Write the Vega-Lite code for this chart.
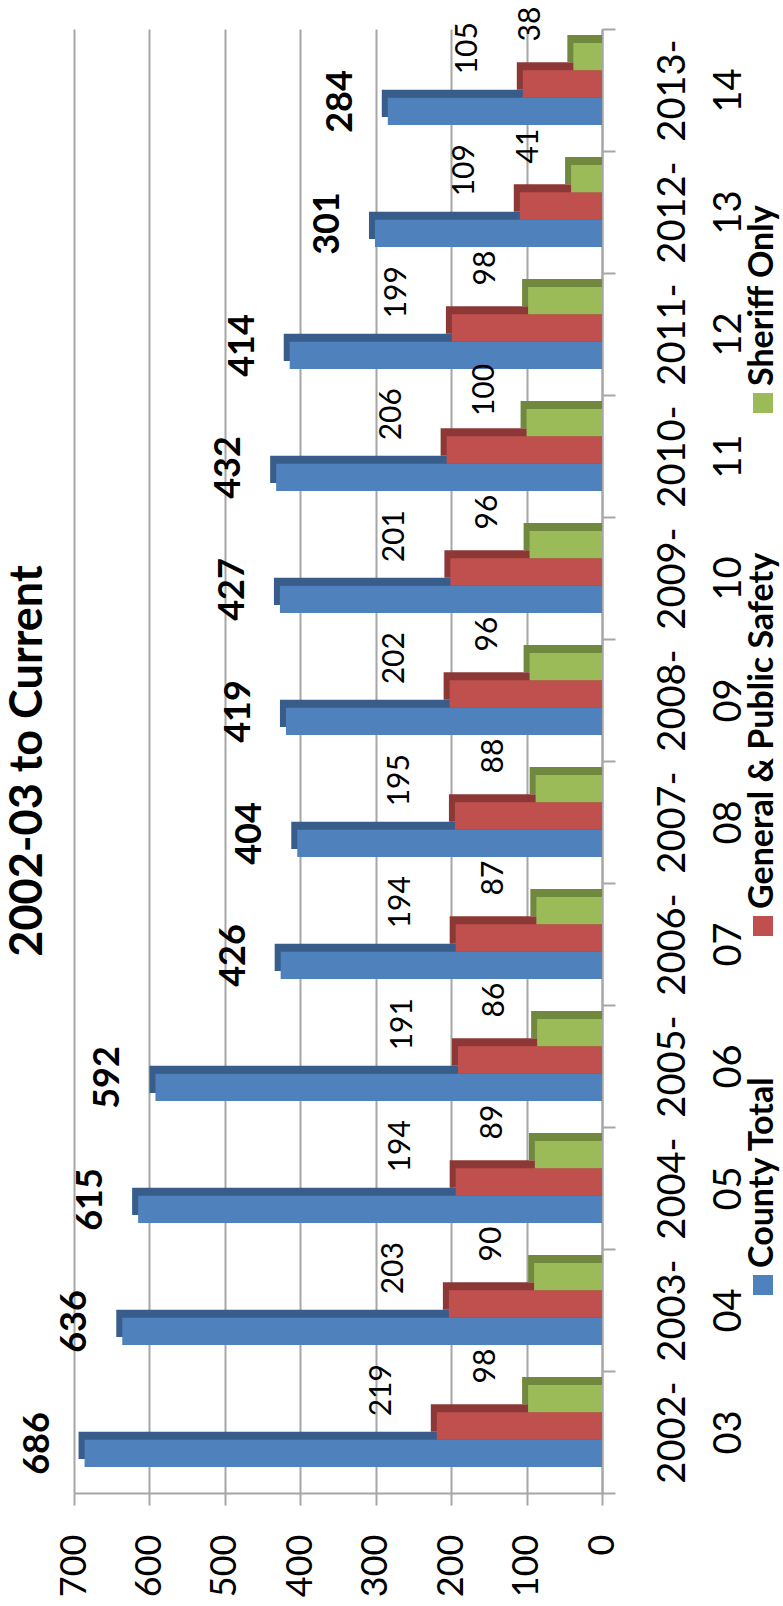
{
  "$schema": "https://vega.github.io/schema/vega-lite/v6.json",
  "width": 528,
  "height": 1464,
  "autosize": {"type": "none"},
  "padding": {"left": 74, "top": 29, "right": 181, "bottom": 113},
  "background": "white",
  "title": {"text": "2002-03 to Current", "orient": "left", "anchor": "middle", "font": "Lato", "fontSize": 45, "fontWeight": "bold", "color": "black", "offset": -31},
  "data": {"values": [
    {"year": "2002-03", "series": "County Total", "value": 686},
    {"year": "2002-03", "series": "General & Public Safety", "value": 219},
    {"year": "2002-03", "series": "Sheriff Only", "value": 98},
    {"year": "2003-04", "series": "County Total", "value": 636},
    {"year": "2003-04", "series": "General & Public Safety", "value": 203},
    {"year": "2003-04", "series": "Sheriff Only", "value": 90},
    {"year": "2004-05", "series": "County Total", "value": 615},
    {"year": "2004-05", "series": "General & Public Safety", "value": 194},
    {"year": "2004-05", "series": "Sheriff Only", "value": 89},
    {"year": "2005-06", "series": "County Total", "value": 592},
    {"year": "2005-06", "series": "General & Public Safety", "value": 191},
    {"year": "2005-06", "series": "Sheriff Only", "value": 86},
    {"year": "2006-07", "series": "County Total", "value": 426},
    {"year": "2006-07", "series": "General & Public Safety", "value": 194},
    {"year": "2006-07", "series": "Sheriff Only", "value": 87},
    {"year": "2007-08", "series": "County Total", "value": 404},
    {"year": "2007-08", "series": "General & Public Safety", "value": 195},
    {"year": "2007-08", "series": "Sheriff Only", "value": 88},
    {"year": "2008-09", "series": "County Total", "value": 419},
    {"year": "2008-09", "series": "General & Public Safety", "value": 202},
    {"year": "2008-09", "series": "Sheriff Only", "value": 96},
    {"year": "2009-10", "series": "County Total", "value": 427},
    {"year": "2009-10", "series": "General & Public Safety", "value": 201},
    {"year": "2009-10", "series": "Sheriff Only", "value": 96},
    {"year": "2010-11", "series": "County Total", "value": 432},
    {"year": "2010-11", "series": "General & Public Safety", "value": 206},
    {"year": "2010-11", "series": "Sheriff Only", "value": 100},
    {"year": "2011-12", "series": "County Total", "value": 414},
    {"year": "2011-12", "series": "General & Public Safety", "value": 199},
    {"year": "2011-12", "series": "Sheriff Only", "value": 98},
    {"year": "2012-13", "series": "County Total", "value": 301},
    {"year": "2012-13", "series": "General & Public Safety", "value": 109},
    {"year": "2012-13", "series": "Sheriff Only", "value": 41},
    {"year": "2013-14", "series": "County Total", "value": 284},
    {"year": "2013-14", "series": "General & Public Safety", "value": 105},
    {"year": "2013-14", "series": "Sheriff Only", "value": 38}
  ]},
  "encoding": {
    "y": {
      "field": "year", "type": "nominal", "sort": "descending",
      "scale": {"paddingInner": 0, "paddingOuter": 0},
      "axis": {
        "orient": "right", "title": null,
        "labelAngle": 270, "labelAlign": "center", "labelBaseline": "top",
        "labelFont": "Lato", "labelFontSize": 38, "labelColor": "black",
        "labelLineHeight": 56, "labelPadding": 39, "labelOverlap": false,
        "labelExpr": "[slice(datum.label,0,5), slice(datum.label,5)]",
        "tickSize": 13, "tickBand": "extent", "tickColor": "#A6A6A6", "tickWidth": 2,
        "domainColor": "#A6A6A6", "domainWidth": 2, "grid": false
      }
    },
    "x": {
      "field": "value", "type": "quantitative", "stack": null,
      "scale": {"domain": [0, 700], "reverse": true, "nice": false},
      "axis": {
        "orient": "bottom", "title": null,
        "values": [0, 100, 200, 300, 400, 500, 600, 700],
        "labelAngle": 270, "labelAlign": "right", "labelBaseline": "middle",
        "labelFont": "Lato", "labelFontSize": 36, "labelColor": "black",
        "labelPadding": 29, "labelOverlap": false,
        "tickSize": 12, "tickColor": "#A6A6A6", "tickWidth": 2,
        "domainColor": "#A6A6A6", "domainWidth": 2,
        "grid": true, "gridColor": "#A6A6A6", "gridWidth": 2
      }
    }
  },
  "layer": [
    {
      "mark": {"type": "bar", "xOffset": -6},
      "encoding": {
        "yOffset": {"field": "series", "type": "nominal", "scale": {"domain": ["Sheriff Only", "General & Public Safety", "County Total"], "paddingInner": 0, "paddingOuter": 0.73, "align": 0.15}},
        "fill": {"field": "series", "type": "nominal", "scale": {"domain": ["County Total", "General & Public Safety", "Sheriff Only"], "range": ["#385D8A", "#8C3836", "#71893F"]}, "legend": null}
      }
    },
    {
      "mark": {"type": "bar"},
      "encoding": {
        "yOffset": {"field": "series", "type": "nominal", "scale": {"domain": ["Sheriff Only", "General & Public Safety", "County Total"], "paddingInner": 0, "paddingOuter": 0.73, "align": 0.35}},
        "color": {
          "field": "series", "type": "nominal",
          "scale": {"domain": ["Sheriff Only", "General & Public Safety", "County Total"], "range": ["#9BBB59", "#C0504D", "#4F81BD"]},
          "legend": {
            "orient": "none", "legendX": 679, "legendY": 364, "direction": "vertical", "title": null,
            "symbolType": "square", "symbolSize": 400, "symbolStrokeWidth": 0,
            "labelFont": "Lato", "labelFontSize": 34, "labelFontWeight": "bold", "labelColor": "black",
            "labelLimit": 500, "rowPadding": 139, "padding": 0,
            "encoding": {
              "symbols": {"x": {"value": 10}, "y": {"value": 10}},
              "labels": {"angle": {"value": 270}, "align": {"value": "left"}, "baseline": {"value": "middle"}, "x": {"value": 10}, "y": {"value": -7}}
            }
          }
        }
      }
    },
    {
      "transform": [{"filter": "datum.series === 'County Total'"}],
      "mark": {"type": "text", "angle": 270, "align": "center", "baseline": "middle", "dx": 16, "dy": -47, "font": "Lato", "fontSize": 36, "fontWeight": "bold", "color": "black"},
      "encoding": {
        "yOffset": {"field": "series", "type": "nominal", "scale": {"domain": ["Sheriff Only", "General & Public Safety", "County Total"], "paddingInner": 0, "paddingOuter": 0.73, "align": 0.35}},
        "text": {"field": "value", "type": "quantitative"}
      }
    },
    {
      "transform": [{"filter": "datum.series === 'General & Public Safety'"}],
      "mark": {"type": "text", "angle": 270, "align": "center", "baseline": "middle", "dx": 34, "dy": -55, "font": "Lato", "fontSize": 30, "color": "black"},
      "encoding": {
        "yOffset": {"field": "series", "type": "nominal", "scale": {"domain": ["Sheriff Only", "General & Public Safety", "County Total"], "paddingInner": 0, "paddingOuter": 0.73, "align": 0.35}},
        "text": {"field": "value", "type": "quantitative"}
      }
    },
    {
      "transform": [{"filter": "datum.series === 'Sheriff Only'"}],
      "mark": {"type": "text", "angle": 270, "align": "center", "baseline": "middle", "dx": 23, "dy": -42, "font": "Lato", "fontSize": 30, "color": "black"},
      "encoding": {
        "yOffset": {"field": "series", "type": "nominal", "scale": {"domain": ["Sheriff Only", "General & Public Safety", "County Total"], "paddingInner": 0, "paddingOuter": 0.73, "align": 0.35}},
        "text": {"field": "value", "type": "quantitative"}
      }
    }
  ],
  "resolve": {"scale": {"yOffset": "independent"}},
  "config": {"view": {"stroke": null}, "font": "Lato"}
}
